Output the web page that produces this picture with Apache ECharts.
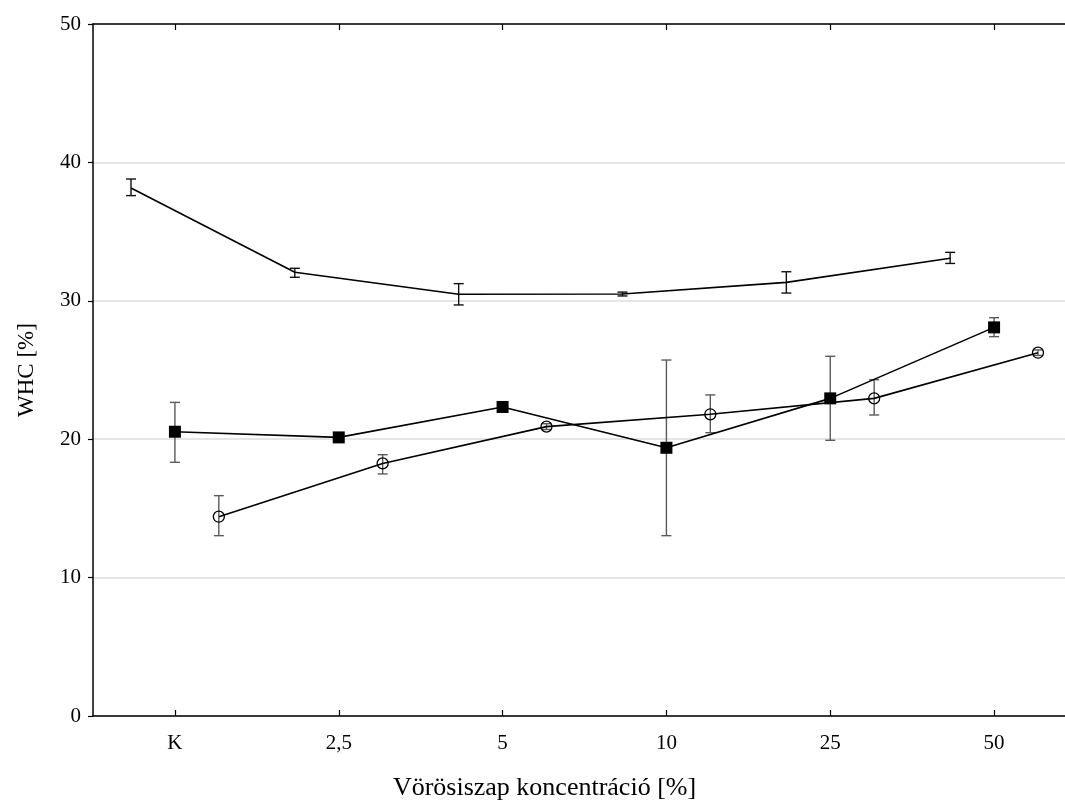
<!DOCTYPE html>
<html>
<head>
<meta charset="utf-8">
<script src="https://cdn.jsdelivr.net/npm/echarts@6/dist/echarts.min.js"></script>
<style>html,body{margin:0;padding:0;background:#fff}#c{width:1065px;height:808px}</style>
</head>
<body>
<div id="c"></div>
<script>
const categories = ['K', '2,5', '5', '10', '25', '50'];
// Series A (top, no marker)
const aMean = [38.15, 32.06, 30.47, 30.49, 31.33, 33.07];
const aLow  = [37.60, 31.70, 29.70, 30.35, 30.56, 32.70];
const aHigh = [38.80, 32.35, 31.24, 30.63, 32.10, 33.50];
// Series B (filled squares)
const bMean = [20.54, 20.13, 22.33, 19.38, 22.95, 28.08];
const bLow  = [18.33, 19.90, 22.10, 13.03, 19.92, 27.41];
const bHigh = [22.66, 20.35, 22.55, 25.72, 25.99, 28.78];
// Series C (open circles)
const cMean = [14.40, 18.25, 20.91, 21.80, 22.95, 26.25];
const cLow  = [13.03, 17.49, 20.70, 20.47, 21.75, 26.05];
const cHigh = [15.92, 18.88, 21.12, 23.20, 24.30, 26.45];

const OFFSET = 0.268;
const FONT = 'Liberation Serif';

function pts(mean, off) { return mean.map((v, i) => [i + off, v]); }
function errs(low, high, off) { return low.map((v, i) => [i + off, v, high[i]]); }

function errSeries(low, high, off, color) {
  return {
    type: 'custom', xAxisIndex: 2, yAxisIndex: 0, z: 2,
    data: errs(low, high, off),
    renderItem: function (params, api) {
      const p1 = api.coord([api.value(0), api.value(1)]);
      const p2 = api.coord([api.value(0), api.value(2)]);
      const w = 5;
      const st = { stroke: color, lineWidth: 1.4 };
      return {
        type: 'group', children: [
          { type: 'line', shape: { x1: p1[0], y1: p1[1], x2: p2[0], y2: p2[1] }, style: st },
          { type: 'line', shape: { x1: p1[0] - w, y1: p1[1], x2: p1[0] + w, y2: p1[1] }, style: st },
          { type: 'line', shape: { x1: p2[0] - w, y1: p2[1], x2: p2[0] + w, y2: p2[1] }, style: st }
        ]
      };
    }
  };
}

const chart = echarts.init(document.getElementById('c'));
chart.setOption({
  animation: false,
  backgroundColor: '#fff',
  grid: { left: 93, top: 24, width: 983, height: 692, containLabel: false, outerBoundsMode: 'none' },
  xAxis: [
    {
      type: 'category', data: categories, position: 'bottom', boundaryGap: true,
      axisLine: { show: true, onZero: false, lineStyle: { color: '#000', width: 1.5 } },
      axisTick: { show: true, inside: true, alignWithLabel: true, length: 6, lineStyle: { color: '#000', width: 1.2 } },
      axisLabel: { color: '#000', fontFamily: FONT, fontSize: 21, margin: 17 },
      splitLine: { show: false },
      name: 'Vörösiszap koncentráció [%]', nameLocation: 'middle', nameGap: 59,
      nameTextStyle: { color: '#000', fontFamily: FONT, fontSize: 26, padding: [0, 80, 0, 0] }
    },
    {
      type: 'category', data: categories, position: 'top', boundaryGap: true,
      axisLine: { show: true, onZero: false, lineStyle: { color: '#000', width: 1.5 } },
      axisTick: { show: true, inside: true, alignWithLabel: true, length: 6, lineStyle: { color: '#000', width: 1.2 } },
      axisLabel: { show: false }, splitLine: { show: false }
    },
    {
      type: 'value', min: -0.5, max: 5.5, show: false, position: 'bottom',
      axisLine: { onZero: false },
      splitLine: { show: false }
    }
  ],
  yAxis: [{
    type: 'value', min: 0, max: 50, interval: 10,
    axisLine: { show: true, onZero: false, lineStyle: { color: '#000', width: 1.5 } },
    axisTick: { show: true, inside: false, length: 5, lineStyle: { color: '#000', width: 1.2 } },
    axisLabel: { color: '#000', fontFamily: FONT, fontSize: 21, margin: 12 },
    splitLine: { show: true, lineStyle: { color: '#dcdcdc', width: 1.5 } },
    name: 'WHC [%]', nameLocation: 'middle', nameGap: 55,
    nameTextStyle: { color: '#000', fontFamily: FONT, fontSize: 23 }
  }],
  series: [
    errSeries(aLow, aHigh, -OFFSET, '#111'),
    errSeries(bLow, bHigh, 0, '#5a5a5a'),
    errSeries(cLow, cHigh, OFFSET, '#5a5a5a'),
    {
      type: 'line', xAxisIndex: 2, yAxisIndex: 0, z: 3,
      data: pts(aMean, -OFFSET), symbol: 'none',
      lineStyle: { color: '#000', width: 1.6 }
    },
    {
      type: 'line', xAxisIndex: 2, yAxisIndex: 0, z: 3,
      data: pts(bMean, 0), symbol: 'rect', symbolSize: 12, showAllSymbol: true,
      lineStyle: { color: '#000', width: 1.6 },
      itemStyle: { color: '#000', borderWidth: 0 }
    },
    {
      type: 'line', xAxisIndex: 2, yAxisIndex: 0, z: 3,
      data: pts(cMean, OFFSET), symbol: 'circle', symbolSize: 11, showAllSymbol: true,
      lineStyle: { color: '#000', width: 1.6 },
      itemStyle: { color: 'rgba(0,0,0,0)', borderColor: '#000', borderWidth: 1.3 }
    }
  ]
});
</script>
</body>
</html>
